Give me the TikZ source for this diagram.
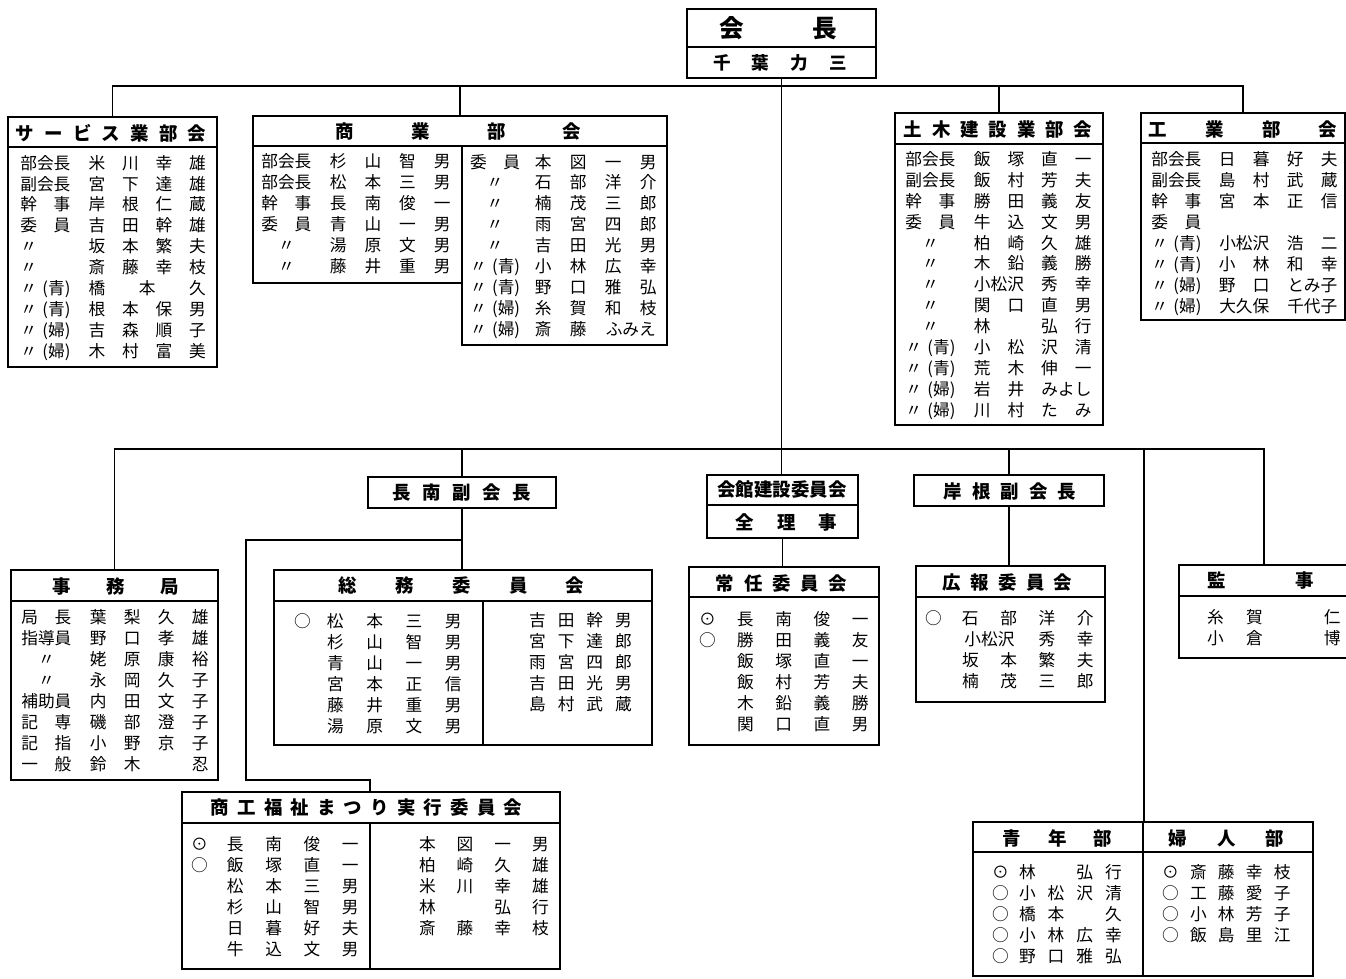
\documentclass[tikz,border=0pt]{standalone}
\usepackage{fontspec}
\setmainfont{Noto Sans CJK JP}
\usetikzlibrary{fit}

\newlength\labw
\newlength\colw
\newcommand\cl[1]{\makebox[\colw]{#1}}
\newcommand\nm[4]{\cl{#1}\cl{#2}\cl{#3}\cl{#4}}
\newcommand\nmw[3]{\makebox[2\colw]{#1}\cl{#2}\cl{#3}}
\newcommand\nme[3]{\cl{#1}\cl{#2}\makebox[2\colw]{#3}}
\newcommand\nmm[3]{\cl{#1}\makebox[2\colw]{#2}\cl{#3}}
\newcommand\nmh[2]{\makebox[2\colw]{#1}\makebox[2\colw]{#2}}
\newcommand\lb[1]{\makebox[\labw][l]{#1}}
\newcommand\lbs[2]{\lb{\makebox[3em][s]{#1\hfill#2}}}
\newcommand\lbc[1]{\lb{\makebox[3em]{#1}}}
\newcommand\orgbox[6]{%
  \node[box, fit={(#2,#3) (#4,#5)}] (#1) {};
  \draw[divline] (#2,#6) -- (#4,#6);}

\tikzset{
  box/.style={draw, line width=1pt, inner sep=0pt},
  divline/.style={line width=0.8pt},
  link/.style={line width=0.7pt},
  ttl/.style={font=\bfseries\fontsize{10.5}{12}\selectfont, inner sep=0pt},
  % placed at the baseline of the last row
  list/.style n args={2}{font=\fontsize{9.5}{11.9}\selectfont, align=left,
    inner sep=0pt, anchor=base west, yshift=-3.6pt,
    execute at begin node={\global\labw=#1\relax\global\colw=#2\relax}},
}

\begin{document}
\begin{tikzpicture}[x=0.02cm, y=-0.02cm]
  \useasboundingbox (0,0) rectangle (1346,978);

  % boxes
  \orgbox{boss}{687}{9}{876}{78}{47}
  \orgbox{svc}{8}{117}{217}{367}{147}
  \node[box, fit={(253,116) (667,146)}] (shogyo) {};
  \draw[box] (253,146) rectangle (462,283);
  \draw[box] (462,146) rectangle (667,345);
  \orgbox{doboku}{895}{113}{1103}{425}{144}
  \orgbox{kogyo}{1141}{113}{1345}{320}{143}
  \orgbox{jimu}{11}{570}{218}{780}{601}
  \node[box, fit={(368,477) (556,508)}] (chonan) {};
  \orgbox{somu}{274}{570}{652}{745}{601}
  \draw[divline] (483,601) -- (483,745);
  \orgbox{matsuri}{182}{792}{560}{969}{823}
  \draw[divline] (370,823) -- (370,969);
  \orgbox{kaikan}{707}{475}{858}{538}{505}
  \orgbox{jonin}{689}{567}{879}{745}{597}
  \node[box, fit={(914,475) (1104,506)}] (kishine) {};
  \orgbox{koho}{916}{566}{1105}{702}{597}
  \orgbox{kansa}{1179}{565}{1349}{658}{596}
  \orgbox{seinen}{973}{822}{1143}{976}{852}
  \orgbox{fujin}{1143}{822}{1313}{976}{852}

  % connectors
  \coordinate (upbar) at (0,86);
  \coordinate (lowbar) at (0,449);
  \draw[link] (svc.north) |- (kogyo.north |- upbar) -- (kogyo.north);
  \draw[link] (shogyo.north) -- (shogyo.north |- upbar);
  \draw[link] (doboku.north) -- (doboku.north |- upbar);
  \draw[link] (boss.south) -- (boss.south |- kaikan.north);
  \draw[link] (jimu.north) |- (kansa.north |- lowbar) -- (kansa.north);
  \draw[link] (chonan.north) -- (chonan.north |- lowbar);
  \draw[link] (kishine.north) -- (kishine.north |- lowbar);
  \draw[link] (seinen.north east) -- (seinen.north east |- lowbar);
  \draw[link] (chonan.south) -- (chonan.south |- somu.north);
  \coordinate (brk) at (chonan.south |- 0,540);
  \coordinate (mturn) at (246,780);
  \coordinate (mtop) at (370,792);
  \draw[link] (brk) -| (mturn) -| (mtop);
  \draw[link] (kaikan.south) -- (kaikan.south |- jonin.north);
  \draw[link] (kishine.south) -- (kishine.south |- koho.north);

  % titles
  \node[ttl, font=\bfseries\fontsize{14}{16}\selectfont] (bosst) at (778.5,28) {\makebox[2.35cm][s]{会 長}};
  \node[ttl, font=\bfseries\fontsize{10}{12}\selectfont] (bossn) at (780,63) {\makebox[2.67cm][s]{千 葉 力 三}};
  \node[ttl] (svct) at (111,133) {\makebox[3.81cm][s]{サ ー ビ ス 業 部 会}};
  \node[ttl] (shogyot) at (458.5,131) {\makebox[4.91cm][s]{商 業 部 会}};
  \node[ttl] (dobokut) at (998,130) {\makebox[3.77cm][s]{土 木 建 設 業 部 会}};
  \node[ttl] (kogyot) at (1243,129) {\makebox[3.77cm][s]{工 業 部 会}};
  \node[ttl] (jimut) at (116,586) {\makebox[2.53cm][s]{事 務 局}};
  \node[ttl] (chonant) at (462,493) {\makebox[2.77cm][s]{長 南 副 会 長}};
  \node[ttl] (somut) at (461.5,585) {\makebox[4.91cm][s]{総 務 委 員 会}};
  \node[ttl] (matsurit) at (366.5,808) {\makebox[6.23cm][s]{商 工 福 祉 ま つ り 実 行 委 員 会}};
  \node[ttl] (kaikant) at (782,490) {会館建設委員会};
  \node[ttl] (rijit) at (786.5,522) {\makebox[2.03cm][s]{全 理 事}};
  \node[ttl] (jonint) at (781.5,583) {\makebox[2.63cm][s]{常 任 委 員 会}};
  \node[ttl] (kishinet) at (1010,491) {\makebox[2.65cm][s]{岸 根 副 会 長}};
  \node[ttl] (kohot) at (1007.5,582) {\makebox[2.59cm][s]{広 報 委 員 会}};
  \node[ttl] (kansat) at (1261,581) {\makebox[2.13cm][s]{監 事}};
  \node[ttl] (seinent) at (1057.5,838) {\makebox[2.19cm][s]{青 年 部}};
  \node[ttl] (fujint) at (1226.5,838) {\makebox[2.31cm][s]{婦 人 部}};

  % member lists
  \node[list={1.2cm}{0.67cm}] (svcl) at (20,351) {%
    \lb{部会長}\nm{米}{川}{幸}{雄}\\
    \lb{副会長}\nm{宮}{下}{達}{雄}\\
    \lbs{幹}{事}\nm{岸}{根}{仁}{蔵}\\
    \lbs{委}{員}\nm{吉}{田}{幹}{雄}\\
    \lb{〃}\nm{坂}{本}{繁}{夫}\\
    \lb{〃}\nm{斎}{藤}{幸}{枝}\\
    \lbs{〃}{(青)}\nmm{橋}{本}{久}\\
    \lbs{〃}{(青)}\nm{根}{本}{保}{男}\\
    \lbs{〃}{(婦)}\nm{吉}{森}{順}{子}\\
    \lbs{〃}{(婦)}\nm{木}{村}{富}{美}};
  \node[list={1.19cm}{0.694cm}] (shogyol) at (261,266) {%
    \lb{部会長}\nm{杉}{山}{智}{男}\\
    \lb{部会長}\nm{松}{本}{三}{男}\\
    \lbs{幹}{事}\nm{長}{南}{俊}{一}\\
    \lbs{委}{員}\nm{青}{山}{一}{男}\\
    \lbc{〃}\nm{湯}{原}{文}{男}\\
    \lbc{〃}\nm{藤}{井}{重}{男}};
  \node[list={1.116cm}{0.70cm}] (shogyor) at (469.7,329) {%
    \lbs{委}{員}\nm{本}{図}{一}{男}\\
    \lbc{〃}\nm{石}{部}{洋}{介}\\
    \lbc{〃}\nm{楠}{茂}{三}{郎}\\
    \lbc{〃}\nm{雨}{宮}{四}{郎}\\
    \lbc{〃}\nm{吉}{田}{光}{男}\\
    \lbs{〃}{(青)}\nm{小}{林}{広}{幸}\\
    \lbs{〃}{(青)}\nm{野}{口}{雅}{弘}\\
    \lbs{〃}{(婦)}\nm{糸}{賀}{和}{枝}\\
    \lbs{〃}{(婦)}\nme{斎}{藤}{ふみえ}};
  \node[list={1.2cm}{0.674cm}] (dobokul) at (905,410) {%
    \lb{部会長}\nm{飯}{塚}{直}{一}\\
    \lb{副会長}\nm{飯}{村}{芳}{夫}\\
    \lbs{幹}{事}\nm{勝}{田}{義}{友}\\
    \lbs{委}{員}\nm{牛}{込}{文}{男}\\
    \lbc{〃}\nm{柏}{崎}{久}{雄}\\
    \lbc{〃}\nm{木}{鉛}{義}{勝}\\
    \lbc{〃}\nmw{小松沢}{秀}{幸}\\
    \lbc{〃}\nm{関}{口}{直}{男}\\
    \lbc{〃}\nm{林}{}{弘}{行}\\
    \lbs{〃}{(青)}\nm{小}{松}{沢}{清}\\
    \lbs{〃}{(青)}\nm{荒}{木}{伸}{一}\\
    \lbs{〃}{(婦)}\nme{岩}{井}{みよし}\\
    \lbs{〃}{(婦)}\nm{川}{村}{た}{み}};
  \node[list={1.18cm}{0.68cm}] (kogyol) at (1151,306) {%
    \lb{部会長}\nm{日}{暮}{好}{夫}\\
    \lb{副会長}\nm{島}{村}{武}{蔵}\\
    \lbs{幹}{事}\nm{宮}{本}{正}{信}\\
    \lbs{委}{員}\\
    \lbs{〃}{(青)}\nmw{小松沢}{浩}{二}\\
    \lbs{〃}{(青)}\nm{小}{林}{和}{幸}\\
    \lbs{〃}{(婦)}\nme{野}{口}{とみ子}\\
    \lbs{〃}{(婦)}\nmh{大久保}{千代子}};
  \node[list={1.2cm}{0.68cm}] (jimul) at (21,764) {%
    \lbs{局}{長}\nm{葉}{梨}{久}{雄}\\
    \lb{指導員}\nm{野}{口}{孝}{雄}\\
    \lbc{〃}\nm{姥}{原}{康}{裕}\\
    \lbc{〃}\nm{永}{岡}{久}{子}\\
    \lb{補助員}\nm{内}{田}{文}{子}\\
    \lbs{記}{専}\nm{磯}{部}{澄}{子}\\
    \lbs{記}{指}\nm{小}{野}{京}{子}\\
    \lbs{一}{般}\nm{鈴}{木}{}{忍}};
  \node[list={0.433cm}{0.786cm}] (somul) at (293.7,726) {%
    \lb{○}\nm{松}{本}{三}{男}\\
    \lb{}\nm{杉}{山}{智}{男}\\
    \lb{}\nm{青}{山}{一}{男}\\
    \lb{}\nm{宮}{本}{正}{信}\\
    \lb{}\nm{藤}{井}{重}{男}\\
    \lb{}\nm{湯}{原}{文}{男}};
  \node[list={0cm}{0.574cm}] (somur) at (522.7,704) {%
    \nm{吉}{田}{幹}{男}\\
    \nm{宮}{下}{達}{郎}\\
    \nm{雨}{宮}{四}{郎}\\
    \nm{吉}{田}{光}{男}\\
    \nm{島}{村}{武}{蔵}};
  \node[list={0.503cm}{0.766cm}] (matsuril) at (190.7,949) {%
    \lb{⊙}\nm{長}{南}{俊}{一}\\
    \lb{○}\nm{飯}{塚}{直}{一}\\
    \lb{}\nm{松}{本}{三}{男}\\
    \lb{}\nm{杉}{山}{智}{男}\\
    \lb{}\nm{日}{暮}{好}{夫}\\
    \lb{}\nm{牛}{込}{文}{男}};
  \node[list={0cm}{0.754cm}] (matsurir) at (408.2,928) {%
    \nm{本}{図}{一}{男}\\
    \nm{柏}{崎}{久}{雄}\\
    \nm{米}{川}{幸}{雄}\\
    \nm{林}{}{弘}{行}\\
    \nm{斎}{藤}{幸}{枝}};
  \node[list={0.543cm}{0.766cm}] (joninl) at (698.7,724) {%
    \lb{⊙}\nm{長}{南}{俊}{一}\\
    \lb{○}\nm{勝}{田}{義}{友}\\
    \lb{}\nm{飯}{塚}{直}{一}\\
    \lb{}\nm{飯}{村}{芳}{夫}\\
    \lb{}\nm{木}{鉛}{義}{勝}\\
    \lb{}\nm{関}{口}{直}{男}};
  \node[list={0.523cm}{0.766cm}] (kohol) at (924.7,681) {%
    \lb{○}\nm{石}{部}{洋}{介}\\
    \lb{}\nmw{小松沢}{秀}{幸}\\
    \lb{}\nm{坂}{本}{繁}{夫}\\
    \lb{}\nm{楠}{茂}{三}{郎}};
  \node[list={0cm}{0.78cm}] (kansal) at (1195.5,638) {%
    \nm{糸}{賀}{}{仁}\\
    \nm{小}{倉}{}{博}};
  \node[list={0.419cm}{0.574cm}] (seinenl) at (991.7,956) {%
    \lb{⊙}\nm{林}{}{弘}{行}\\
    \lb{○}\nm{小}{松}{沢}{清}\\
    \lb{○}\nm{橋}{本}{}{久}\\
    \lb{○}\nm{小}{林}{広}{幸}\\
    \lb{○}\nm{野}{口}{雅}{弘}};
  \node[list={0.446cm}{0.56cm}] (fujinl) at (1161.7,935) {%
    \lb{⊙}\nm{斎}{藤}{幸}{枝}\\
    \lb{○}\nm{工}{藤}{愛}{子}\\
    \lb{○}\nm{小}{林}{芳}{子}\\
    \lb{○}\nm{飯}{島}{里}{江}};
\end{tikzpicture}
\end{document}
